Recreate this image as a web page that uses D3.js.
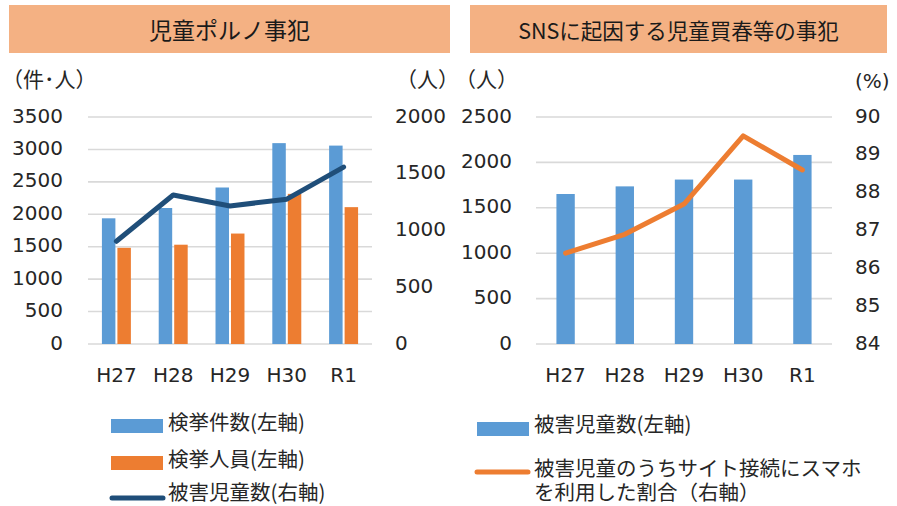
<!DOCTYPE html>
<html><head><meta charset="utf-8">
<script src="https://cdn.jsdelivr.net/npm/d3@7"></script>
<style>
body{margin:0;background:#fff;}
svg{display:block;}
</style></head>
<body>
<svg id="c" width="897" height="506"></svg>
<script>
// ---- data ----
const categories = ["H27","H28","H29","H30","R1"];
const arrestCases = [1938, 2097, 2413, 3097, 3059];      // 検挙件数(左軸)
const arrestPersons = [1483, 1531, 1703, 2315, 2110];    // 検挙人員(左軸)
const pornVictims = [905, 1313, 1216, 1276, 1559];       // 被害児童数(右軸)
const snsVictims = [1652, 1736, 1811, 1811, 2082];       // 被害児童数(左軸)
const smartphoneRate = [86.4, 86.9, 87.7, 89.5, 88.6];   // スマホ割合(右軸)
const leftTicksA = [0,500,1000,1500,2000,2500,3000,3500];
const rightTicksA = [0,500,1000,1500,2000];
const leftTicksB = [0,500,1000,1500,2000,2500];
const rightTicksB = [84,85,86,87,88,89,90];
const titleA = "児童ポルノ事犯";
const titleB = "SNSに起因する児童買春等の事犯";

const BLUE = "#5B9BD5", ORANGE = "#ED7D31", NAVY = "#1F4E79", GRID = "#D9D9D9", TXT = "#262626";
const NUMFONT = "'DejaVu Sans',sans-serif";
const JPFONT = "'Noto Sans CJK JP','Noto Sans CJK SC',sans-serif";

const svg = d3.select("#c");

// ---- title boxes ----
function titleBox(x0, x1, text, fs){
  svg.append("rect").attr("x", x0).attr("y", 5).attr("width", x1-x0).attr("height", 48).attr("fill", "#F4B183");
  svg.append("text").attr("x", (x0+x1)/2).attr("y", 29).attr("text-anchor","middle")
    .attr("dominant-baseline","central").attr("font-family", JPFONT).attr("font-size", fs)
    .attr("fill", "#1a1a1a").text(text);
}
titleBox(9, 450, titleA, 23);
titleBox(470, 887, titleB, 21.5);

const yTop = 117, yBot = 344;
const fmt = d3.format("d");

function styleAxis(g){
  g.select(".domain").remove();
  g.selectAll("text").attr("font-family", NUMFONT).attr("font-size", 20).attr("fill", TXT);
}

function grid(x0, x1, scale, ticks){
  svg.append("g").selectAll("line").data(ticks).join("line")
    .attr("x1", x0).attr("x2", x1)
    .attr("y1", d=>scale(d)).attr("y2", d=>scale(d))
    .attr("stroke", GRID).attr("stroke-width", 1.6);
}

function unitLabel(x, y, text, font, fs){
  svg.append("text").attr("x", x).attr("y", y).attr("dominant-baseline","central")
    .attr("font-family", font).attr("font-size", fs).attr("fill", TXT).text(text);
}

function legendText(g, x, y, t){
  g.append("text").attr("x", x).attr("y", y).attr("dominant-baseline","central")
    .attr("font-family",JPFONT).attr("font-size",20.5).attr("fill",TXT).text(t);
}

// ================= Chart A =================
(function(){
  const x0 = 88, x1 = 372;
  const x = d3.scaleBand().domain(categories).range([x0, x1]).paddingInner(0.49).paddingOuter(0.245);
  const xs = d3.scaleBand().domain(["cases","persons"]).range([0, x.bandwidth()]).padding(0.13).paddingOuter(0);
  const yL = d3.scaleLinear().domain([0,3500]).range([yBot, yTop]);
  const yR = d3.scaleLinear().domain([0,2000]).range([yBot, yTop]);
  grid(x0, x1, yL, leftTicksA);

  const rows = categories.map((c,i)=>({c, cases: arrestCases[i], persons: arrestPersons[i]}));
  const g = svg.append("g");
  g.selectAll(".b1").data(rows).join("rect")
    .attr("x", d=>x(d.c)+xs("cases")).attr("width", xs.bandwidth())
    .attr("y", d=>yL(d.cases)).attr("height", d=>yBot-yL(d.cases)).attr("fill", BLUE);
  g.selectAll(".b2").data(rows).join("rect")
    .attr("x", d=>x(d.c)+xs("persons")).attr("width", xs.bandwidth())
    .attr("y", d=>yL(d.persons)).attr("height", d=>yBot-yL(d.persons)).attr("fill", ORANGE);

  const line = d3.line().x((d,i)=>x(categories[i])+x.bandwidth()/2).y(d=>yR(d));
  svg.append("path").datum(pornVictims).attr("d", line).attr("fill","none")
    .attr("stroke", NAVY).attr("stroke-width", 5).attr("stroke-linejoin","round").attr("stroke-linecap","round");

  const ax1 = svg.append("g").attr("transform", `translate(${x0},0)`)
    .call(d3.axisLeft(yL).tickValues(leftTicksA).tickFormat(fmt).tickSize(0).tickPadding(25));
  styleAxis(ax1); ax1.selectAll("text").attr("dy", "0.25em");
  const ax2 = svg.append("g").attr("transform", `translate(${x1},0)`)
    .call(d3.axisRight(yR).tickValues(rightTicksA).tickFormat(fmt).tickSize(0).tickPadding(23));
  styleAxis(ax2); ax2.selectAll("text").attr("dy", "0.25em");
  const ax3 = svg.append("g").attr("transform", `translate(0,${yBot})`)
    .call(d3.axisBottom(x).tickSize(0));
  styleAxis(ax3); ax3.selectAll("text").attr("y", 38).attr("dy", 0);

  unitLabel(2, 78, "（件･人）", JPFONT, 21);
  unitLabel(396, 78, "（人）", JPFONT, 21);

  // legend
  const lg = svg.append("g");
  lg.append("rect").attr("x",111).attr("y",419).attr("width",52).attr("height",14).attr("fill",BLUE);
  lg.append("rect").attr("x",111).attr("y",456).attr("width",52).attr("height",14).attr("fill",ORANGE);
  lg.append("line").attr("x1",112).attr("x2",163).attr("y1",498).attr("y2",498)
    .attr("stroke",NAVY).attr("stroke-width",5).attr("stroke-linecap","round");
  [["検挙件数(左軸)",421],["検挙人員(左軸)",458],["被害児童数(右軸)",491]].forEach(([t,y])=>legendText(lg,168,y,t));
})();

// ================= Chart B =================
(function(){
  const x0 = 536, x1 = 832;
  const x = d3.scaleBand().domain(categories).range([x0, x1]).paddingInner(0.69).paddingOuter(0.345);
  const yL = d3.scaleLinear().domain([0,2500]).range([yBot, yTop]);
  const yR = d3.scaleLinear().domain([84,90]).range([yBot, yTop]);
  grid(x0, x1, yL, leftTicksB);

  svg.append("g").selectAll("rect").data(snsVictims).join("rect")
    .attr("x", (d,i)=>x(categories[i])).attr("width", x.bandwidth())
    .attr("y", d=>yL(d)).attr("height", d=>yBot-yL(d)).attr("fill", BLUE);

  const line = d3.line().x((d,i)=>x(categories[i])+x.bandwidth()/2).y(d=>yR(d));
  svg.append("path").datum(smartphoneRate).attr("d", line).attr("fill","none")
    .attr("stroke", ORANGE).attr("stroke-width", 5).attr("stroke-linejoin","round").attr("stroke-linecap","round");

  const ax1 = svg.append("g").attr("transform", `translate(${x0},0)`)
    .call(d3.axisLeft(yL).tickValues(leftTicksB).tickFormat(fmt).tickSize(0).tickPadding(24));
  styleAxis(ax1); ax1.selectAll("text").attr("dy", "0.25em");
  const ax2 = svg.append("g").attr("transform", `translate(${x1},0)`)
    .call(d3.axisRight(yR).tickValues(rightTicksB).tickFormat(fmt).tickSize(0).tickPadding(23));
  styleAxis(ax2); ax2.selectAll("text").attr("dy", "0.25em");
  const ax3 = svg.append("g").attr("transform", `translate(0,${yBot})`)
    .call(d3.axisBottom(x).tickSize(0));
  styleAxis(ax3); ax3.selectAll("text").attr("y", 38).attr("dy", 0);

  unitLabel(455, 78, "（人）", JPFONT, 21);
  unitLabel(855, 81, "(%)", NUMFONT, 20);

  const lg = svg.append("g");
  lg.append("rect").attr("x",477).attr("y",422).attr("width",52).attr("height",14).attr("fill",BLUE);
  lg.append("line").attr("x1",477).attr("x2",528).attr("y1",472).attr("y2",472)
    .attr("stroke",ORANGE).attr("stroke-width",5).attr("stroke-linecap","round");
  [["被害児童数(左軸)",423],["被害児童のうちサイト接続にスマホ",467],["を利用した割合（右軸）",491]].forEach(([t,y])=>legendText(lg,534,y,t));
})();
</script>
</body></html>
